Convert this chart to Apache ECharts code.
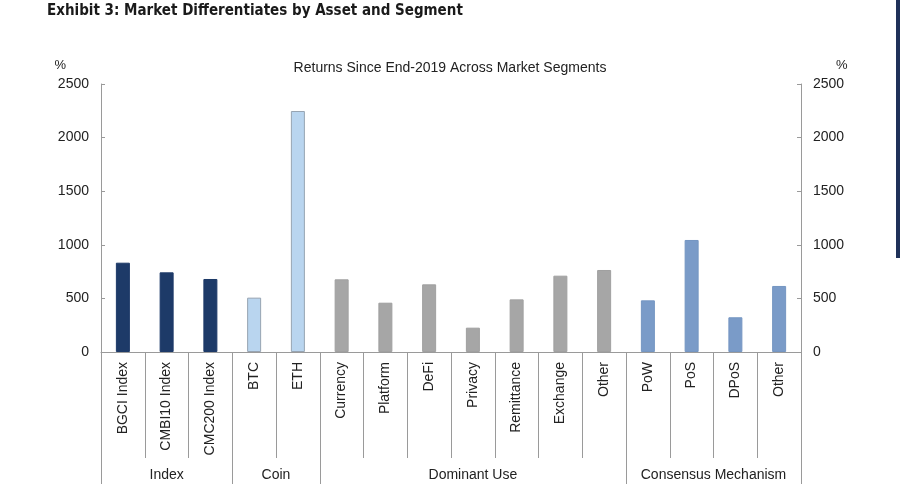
<!DOCTYPE html>
<html>
<head>
<meta charset="utf-8">
<script src="https://cdn.jsdelivr.net/npm/echarts@6/dist/echarts.min.js"></script>
<style>
  html, body { margin: 0; padding: 0; background: #fff; }
  #main { width: 900px; height: 501px; }
</style>
</head>
<body>
<div id="main"></div>
<script>
// values (returns since end-2019, %)
var indexCats = ['BGCI Index', 'CMBI10 Index', 'CMC200 Index'];
var indexVals = [833, 743, 681];
var coinCats = ['BTC', 'ETH'];
var coinVals = [507, 2248];
var useCats = ['Currency', 'Platform', 'DeFi', 'Privacy', 'Remittance', 'Exchange', 'Other'];
var useVals = [678, 460, 631, 227, 491, 712, 765];
var mechCats = ['PoW', 'PoS', 'DPoS', 'Other'];
var mechVals = [482, 1045, 324, 616];
var groupNames = ['Index', 'Coin', 'Dominant Use', 'Consensus Mechanism'];
var yTicks = [0, 500, 1000, 1500, 2000, 2500];

var groupColors = ['#1d3a68', '#b9d5ef', '#a6a6a6', '#7a9bc8'];
var groupBorders = ['#1d3a68', '#97a4b2', '#a0a0a0', '#7596c2'];

var groups = [indexCats, coinCats, useCats, mechCats];
var groupVals = [indexVals, coinVals, useVals, mechVals];
var categories = [], barData = [];
groups.forEach(function (g, gi) {
    g.forEach(function (c, i) {
        categories.push(c);
        barData.push({
            value: groupVals[gi][i],
            itemStyle: { color: groupColors[gi], borderColor: groupBorders[gi], borderWidth: 1 }
        });
    });
});

// group boundaries & centres on a 0..N scale for the second x axis
var bounds = [0], centers = [];
groups.forEach(function (g) {
    var start = bounds[bounds.length - 1];
    bounds.push(start + g.length);
    centers.push(start + g.length / 2);
});

var font = 'Liberation Sans, Arial, sans-serif';
var textCol = '#222';
var lineCol = '#9a9a9a';

var myChart = echarts.init(document.getElementById('main'));
var option = {
    animation: false,
    textStyle: { fontFamily: font },
    title: [
        {
            text: 'Exhibit 3: Market Differentiates by Asset and Segment',
            left: 42, top: -1,
            textStyle: { fontFamily: 'DejaVu Sans Condensed, Liberation Sans Narrow, sans-serif', fontWeight: 'bold', fontSize: 15, color: '#1a1a1a' }
        },
        {
            text: 'Returns Since End-2019 Across Market Segments',
            left: 'center', top: 56,
            textStyle: { fontFamily: font, fontWeight: 'normal', fontSize: 14, color: textCol }
        }
    ],
    graphic: [
        { type: 'rect', right: 0, top: 0, shape: { width: 4, height: 258 }, style: { fill: '#1f3159' } }
    ],
    grid: { left: 101, right: 99, top: 84, bottom: 149 },
    xAxis: [
        {
            type: 'category',
            data: categories,
            axisLine: { lineStyle: { color: lineCol } },
            axisTick: { show: true, interval: 0, length: 106, lineStyle: { color: lineCol } },
            axisLabel: { interval: 0, rotate: 90, margin: 10, fontSize: 14, color: textCol, fontFamily: font }
        },
        {
            type: 'value',
            min: 0, max: categories.length,
            position: 'bottom',
            axisLine: { show: false },
            splitLine: { show: false },
            axisTick: { show: true, customValues: bounds, length: 132, lineStyle: { color: lineCol } },
            axisLabel: {
                customValues: centers, margin: 116, fontSize: 14, color: textCol, fontFamily: font,
                formatter: function (v) {
                    var i = centers.indexOf(v);
                    return i >= 0 ? groupNames[i] : '';
                }
            }
        }
    ],
    yAxis: [
        {
            type: 'value', min: yTicks[0], max: yTicks[yTicks.length - 1], interval: 500,
            name: '%', nameLocation: 'end', nameGap: 12,
            nameTextStyle: { align: 'right', padding: [0, 35, 0, 0], fontSize: 13, color: textCol },
            axisLine: { show: true, lineStyle: { color: lineCol } },
            axisTick: { show: true, inside: true, length: 4, lineStyle: { color: lineCol } },
            axisLabel: { margin: 12, fontSize: 14, color: textCol, formatter: function (v) { return String(v); } },
            splitLine: { show: false }
        },
        {
            type: 'value', min: yTicks[0], max: yTicks[yTicks.length - 1], interval: 500,
            position: 'right',
            name: '%', nameLocation: 'end', nameGap: 12,
            nameTextStyle: { align: 'left', padding: [0, 0, 0, 35], fontSize: 13, color: textCol },
            axisLine: { show: true, lineStyle: { color: lineCol } },
            axisTick: { show: true, inside: true, length: 4, lineStyle: { color: lineCol } },
            axisLabel: { margin: 12, fontSize: 14, color: textCol, formatter: function (v) { return String(v); } },
            splitLine: { show: false }
        }
    ],
    series: [
        {
            type: 'bar',
            xAxisIndex: 0,
            yAxisIndex: 0,
            barWidth: 14,
            data: barData
        }
    ]
};
myChart.setOption(option);
</script>
</body>
</html>
